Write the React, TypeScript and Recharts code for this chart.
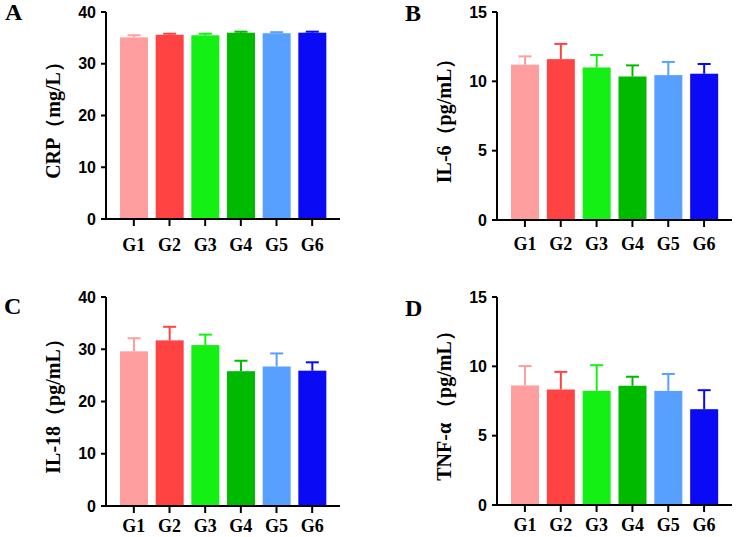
import { BarChart, Bar, XAxis, YAxis, Cell } from "recharts";

const groups = ["G1", "G2", "G3", "G4", "G5", "G6"];

const crpMean = [35.1, 35.6, 35.5, 36.0, 35.9, 36.0];
const crpSd = [0.4, 0.2, 0.3, 0.2, 0.2, 0.2];

const il6Mean = [11.2, 11.6, 11.0, 10.35, 10.45, 10.55];
const il6Sd = [0.6, 1.1, 0.9, 0.8, 0.95, 0.7];

const il18Mean = [29.6, 31.7, 30.8, 25.8, 26.7, 25.9];
const il18Sd = [2.5, 2.6, 2.0, 2.0, 2.5, 1.6];

const tnfMean = [8.62, 8.33, 8.23, 8.6, 8.23, 6.91];
const tnfSd = [1.4, 1.27, 1.85, 0.65, 1.22, 1.37];

const ticks40 = [0, 10, 20, 30, 40];
const ticks15 = [0, 5, 10, 15];

const COLORS = ["#FF9E9E", "#FF4242", "#14F014", "#00BA00", "#58A0FF", "#0A0AF5"];

const SERIF = "Liberation Serif";
const SANS = "Liberation Sans";

const buildData = (mean: number[], sd: number[]) =>
  groups.map((g, i) => ({ group: g, mean: mean[i], sd: sd[i] }));

// bar + upper error bar in the bar's own colour
function BarWithError(props: any) {
  const { x, y, width, height, fill, payload } = props;
  const ppu = height / payload.mean;
  const top = y - payload.sd * ppu;
  const cx = x + width / 2;
  return (
    <g>
      <line x1={cx} x2={cx} y1={y} y2={top} stroke={fill} strokeWidth={2} />
      <line x1={cx - 6.5} x2={cx + 6.5} y1={top} y2={top} stroke={fill} strokeWidth={2} />
      <rect x={x} y={y} width={width} height={height} fill={fill} />
    </g>
  );
}

type PanelProps = {
  left: number;
  top: number;
  height: number;
  mean: number[];
  sd: number[];
  max: number;
  ticks: number[];
  label: string;
  margin: { top: number; right: number; bottom: number; left: number };
  yWidth: number;
  xTickMargin: number;
};

function Panel(p: PanelProps) {
  const data = buildData(p.mean, p.sd);
  return (
    <div style={{ position: "absolute", left: p.left, top: p.top }}>
      <BarChart
        width={369}
        height={p.height}
        data={data}
        margin={p.margin}
        style={{ overflow: "visible" }}
      >
        <XAxis
          dataKey="group"
          axisLine={{ stroke: "#000", strokeWidth: 2 }}
          tickLine={{ stroke: "#000", strokeWidth: 2 }}
          tickSize={7}
          tickMargin={p.xTickMargin}
          height={30}
          padding={{ left: 10, right: 10 }}
          tick={{ fill: "#000", fontSize: 18, fontWeight: 700, fontFamily: SERIF }}
          interval={0}
        />
        <YAxis
          domain={[0, p.max]}
          ticks={p.ticks}
          width={p.yWidth}
          axisLine={{ stroke: "#000", strokeWidth: 2 }}
          tickLine={{ stroke: "#000", strokeWidth: 2 }}
          tickSize={5}
          tickMargin={5}
          tick={{ fill: "#000", fontSize: 16, fontWeight: 700, fontFamily: SANS }}
          label={(lp: any) => {
            const vb = lp.viewBox;
            const lx = vb.x + vb.width - 53;
            const ly = vb.y + vb.height / 2;
            return (
              <text
                x={lx}
                y={ly}
                transform={`rotate(-90 ${lx} ${ly})`}
                textAnchor="middle"
                dominantBaseline="central"
                fill="#000"
                fontSize={20}
                fontWeight={700}
                fontFamily={SERIF}
              >
                {p.label}
              </text>
            );
          }}
        />
        <Bar dataKey="mean" barSize={28} isAnimationActive={false} shape={BarWithError}>
          {data.map((_, i) => (
            <Cell key={i} fill={COLORS[i]} />
          ))}
        </Bar>
      </BarChart>
    </div>
  );
}

export default function App() {
  return (
    <div
      style={{
        position: "absolute",
        left: 0,
        top: 0,
        width: 738,
        height: 537,
        background: "#fff",
        overflow: "hidden",
      }}
    >
      <Panel
        left={0}
        top={0}
        height={268}
        mean={crpMean}
        sd={crpSd}
        max={40}
        ticks={ticks40}
        label="CRP（mg/L）"
        margin={{ top: 12, right: 29, bottom: 19, left: 0 }}
        yWidth={106}
        xTickMargin={12}
      />
      <Panel
        left={369}
        top={0}
        height={268}
        mean={il6Mean}
        sd={il6Sd}
        max={15}
        ticks={ticks15}
        label="IL-6（pg/mL）"
        margin={{ top: 12, right: 6, bottom: 18, left: 0 }}
        yWidth={128}
        xTickMargin={10}
      />
      <Panel
        left={0}
        top={268}
        height={269}
        mean={il18Mean}
        sd={il18Sd}
        max={40}
        ticks={ticks40}
        label="IL-18（pg/mL）"
        margin={{ top: 29, right: 29, bottom: 1, left: 0 }}
        yWidth={106}
        xTickMargin={6}
      />
      <Panel
        left={369}
        top={268}
        height={269}
        mean={tnfMean}
        sd={tnfSd}
        max={15}
        ticks={ticks15}
        label="TNF-α （pg/mL）"
        margin={{ top: 29, right: 6, bottom: 2, left: 0 }}
        yWidth={128}
        xTickMargin={6}
      />
      <svg
        width={738}
        height={537}
        style={{ position: "absolute", left: 0, top: 0, pointerEvents: "none" }}
      >
        <g fontFamily={SERIF} fontWeight={700} fontSize={24} fill="#000">
          <text x={5} y={20}>A</text>
          <text x={405} y={21}>B</text>
          <text x={4} y={314}>C</text>
          <text x={405} y={316}>D</text>
        </g>
      </svg>
    </div>
  );
}
